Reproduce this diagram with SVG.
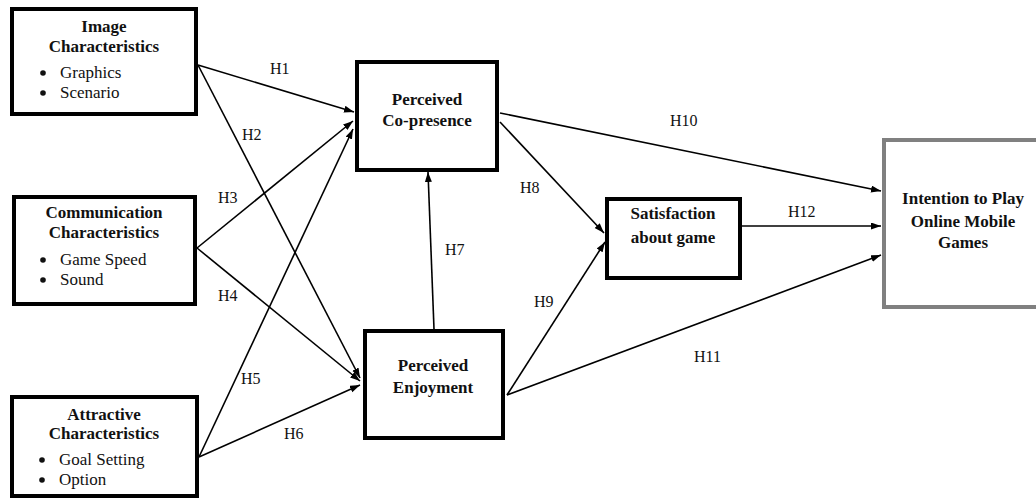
<svg xmlns="http://www.w3.org/2000/svg" width="1036" height="500" viewBox="0 0 1036 500">
  <style>
    .box { fill: #ffffff; stroke: #000000; stroke-width: 4; }
    .box-grey { fill: #ffffff; stroke: #808080; stroke-width: 4; }
    .title { font-family: "Liberation Serif", "Times New Roman", serif; font-size: 17px; font-weight: bold; fill: #111111; text-anchor: middle; }
    .item { font-family: "Liberation Serif", "Times New Roman", serif; font-size: 17px; fill: #111111; }
    .hyp { font-family: "Liberation Serif", "Times New Roman", serif; font-size: 16px; fill: #111111; }
    .bullet { fill: #111111; }
    .edge { fill: none; stroke: #000000; stroke-width: 1.6; marker-end: url(#arrow); }
  </style>
  <defs>
    <marker id="arrow" markerUnits="userSpaceOnUse" markerWidth="11" markerHeight="8" refX="10" refY="3.5" orient="auto">
      <path d="M0,0 L10,3.5 L0,7 z" fill="#000000"/>
    </marker>
  </defs>

  <rect width="1036" height="500" fill="#ffffff"/>

  <!-- connectors -->
  <g id="connectors">
    <line class="edge" x1="198" y1="65" x2="354" y2="112"/>
    <line class="edge" x1="198" y1="65" x2="360" y2="378"/>
    <line class="edge" x1="197" y1="248" x2="353" y2="121"/>
    <line class="edge" x1="197" y1="248" x2="360" y2="381"/>
    <line class="edge" x1="199" y1="457" x2="353" y2="129"/>
    <line class="edge" x1="199" y1="457" x2="360" y2="385"/>
    <line class="edge" x1="434" y1="329" x2="428" y2="172"/>
    <line class="edge" x1="500" y1="122" x2="604" y2="233"/>
    <line class="edge" x1="507" y1="395" x2="605" y2="242"/>
    <line class="edge" x1="500" y1="113" x2="881" y2="191"/>
    <line class="edge" x1="507" y1="395" x2="881" y2="255"/>
    <line class="edge" x1="742" y1="226" x2="881" y2="226"/>

    <text class="hyp" x="270" y="74">H1</text>
    <text class="hyp" x="242" y="140">H2</text>
    <text class="hyp" x="218" y="203">H3</text>
    <text class="hyp" x="218" y="301">H4</text>
    <text class="hyp" x="241" y="384">H5</text>
    <text class="hyp" x="284" y="439">H6</text>
    <text class="hyp" x="445" y="255">H7</text>
    <text class="hyp" x="520" y="193">H8</text>
    <text class="hyp" x="534" y="307">H9</text>
    <text class="hyp" x="670" y="126">H10</text>
    <text class="hyp" x="694" y="362">H11</text>
    <text class="hyp" x="788" y="217">H12</text>
  </g>

  <!-- antecedent constructs -->
  <g id="image-characteristics">
    <rect class="box" x="12" y="9" width="184" height="105"/>
    <text class="title" x="104" y="32">Image</text>
    <text class="title" x="104" y="52">Characteristics</text>
    <circle class="bullet" cx="43" cy="73" r="2.8"/>
    <text class="item" x="60" y="78">Graphics</text>
    <circle class="bullet" cx="43" cy="93" r="2.8"/>
    <text class="item" x="60" y="98">Scenario</text>
  </g>

  <g id="communication-characteristics">
    <rect class="box" x="14" y="197" width="181" height="107"/>
    <text class="title" x="104" y="218">Communication</text>
    <text class="title" x="104" y="238">Characteristics</text>
    <circle class="bullet" cx="43" cy="260" r="2.8"/>
    <text class="item" x="60" y="265">Game Speed</text>
    <circle class="bullet" cx="43" cy="280" r="2.8"/>
    <text class="item" x="60" y="285">Sound</text>
  </g>

  <g id="attractive-characteristics">
    <rect class="box" x="12" y="397" width="185" height="99"/>
    <text class="title" x="104" y="420">Attractive</text>
    <text class="title" x="104" y="439">Characteristics</text>
    <circle class="bullet" cx="42" cy="460" r="2.8"/>
    <text class="item" x="59" y="465">Goal Setting</text>
    <circle class="bullet" cx="42" cy="480" r="2.8"/>
    <text class="item" x="59" y="485">Option</text>
  </g>

  <!-- mediating constructs -->
  <g id="perceived-copresence">
    <rect class="box" x="357" y="62" width="140" height="108"/>
    <text class="title" x="427" y="105">Perceived</text>
    <text class="title" x="427" y="126">Co-presence</text>
  </g>

  <g id="perceived-enjoyment">
    <rect class="box" x="365" y="331" width="138" height="107"/>
    <text class="title" x="433" y="371">Perceived</text>
    <text class="title" x="433" y="393">Enjoyment</text>
  </g>

  <g id="satisfaction">
    <rect class="box" x="607" y="199" width="133" height="79"/>
    <text class="title" x="673" y="219">Satisfaction</text>
    <text class="title" x="673" y="243">about game</text>
  </g>

  <!-- outcome construct -->
  <g id="intention">
    <rect class="box-grey" x="884" y="140" width="160" height="167"/>
    <text class="title" x="963" y="204">Intention to Play</text>
    <text class="title" x="963" y="227">Online Mobile</text>
    <text class="title" x="963" y="248">Games</text>
  </g>
</svg>
